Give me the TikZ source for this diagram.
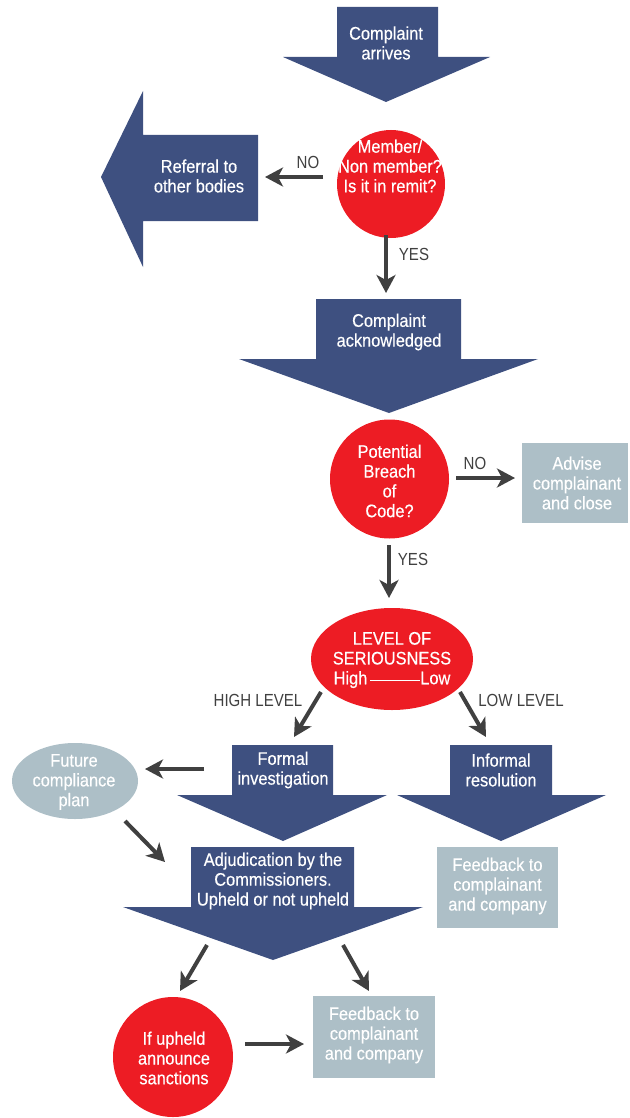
\documentclass[tikz,border=0pt]{standalone}
\usepackage{fontspec}
\setmainfont{Liberation Sans}
\newfontfamily\boxfont[FakeStretch=0.9,FakeBold=0.35]{Liberation Sans}
\newfontfamily\lblfont[FakeStretch=0.86]{Liberation Sans}
\usetikzlibrary{shapes.geometric,arrows.meta}
\definecolor{navy}{RGB}{62,80,128}
\definecolor{redfill}{RGB}{237,28,36}
\definecolor{grayfill}{RGB}{173,191,199}
\definecolor{arrowgray}{RGB}{64,64,64}
\begin{document}
\begin{tikzpicture}[x=1pt,y=-1pt,
  txt/.style={text=white,font=\boxfont\fontsize{18.2}{19.8}\selectfont,align=center,inner sep=0pt},
  lbl/.style={text=arrowgray,font=\lblfont\fontsize{17.5}{18}\selectfont,inner sep=0pt},
  conn/.style={draw=arrowgray,line width=4pt,-{Stealth[length=18pt,width=19pt,inset=5pt]}},
  blockarrow/.style={fill=navy},
  redcircle/.style={circle,fill=redfill,inner sep=0pt},
  grayellipse/.style={ellipse,fill=grayfill,inner sep=0pt},
  graybox/.style={rectangle,fill=grayfill,inner sep=0pt}]
\useasboundingbox (0,0) rectangle (629,1118);

% block arrows
\fill[blockarrow] (337,7) -- (438,7) -- (438,57) -- (490,57) -- (386,102) -- (283,57) -- (337,57) -- cycle;
\fill[blockarrow] (258,135) -- (258,221) -- (143,221) -- (143,267) -- (101,177) -- (143,91) -- (143,135) -- cycle;
\fill[blockarrow] (316,299) -- (461,299) -- (461,359) -- (538,359) -- (389,413) -- (239,359) -- (316,359) -- cycle;
\fill[blockarrow] (232,745) -- (333,745) -- (333,795) -- (387,795) -- (283,841) -- (177,795) -- (232,795) -- cycle;
\fill[blockarrow] (450,745) -- (552,745) -- (552,795) -- (606,795) -- (501,841) -- (397,795) -- (450,795) -- cycle;
\fill[blockarrow] (191,847) -- (354,847) -- (354,907) -- (423,907) -- (273,960) -- (123,907) -- (191,907) -- cycle;

% shapes
\node[redcircle,minimum size=108pt] (c1) at (391,184) {};
\node[redcircle,minimum size=119pt] (c2) at (389.5,479) {};
\node[ellipse,fill=redfill,inner sep=0pt,minimum width=162pt,minimum height=102pt] (lev) at (392,659) {};
\node[grayellipse,minimum width=126pt,minimum height=76pt] (fut) at (75,781) {};
\node[redcircle,minimum size=120pt] (c3) at (173,1057) {};
\node[graybox,minimum width=106pt,minimum height=80pt] (adv) at (575,483) {};
\node[graybox,minimum width=121pt,minimum height=81pt] (fb1) at (497.5,887.5) {};
\node[graybox,minimum width=122pt,minimum height=82pt] (fb2) at (374,1037) {};

% texts
\node[txt] (t1) at (386,43) {Complaint\\arrives};
\node[txt] (tref) at (199,176) {Referral to\\other bodies};
\node[txt] (tc1) at (390,166) {Member/\\Non member?\\Is it in remit?};
\node[txt] (tack) at (389,332) {Complaint\\acknowledged};
\node[txt] (tc2) at (389.5,481) {Potential\\Breach\\of\\Code?};
\node[txt] (tadv) at (577,483) {Advise\\complainant\\and close};
\node[txt] (tlev) at (392,660) {LEVEL OF\\SERIOUSNESS\\High\hspace{3pt}\rule[0.3ex]{50pt}{0.9pt}Low};
\node[txt] (tform) at (283,770) {Formal\\investigation};
\node[txt] (tinf) at (501,770) {Informal\\resolution};
\node[txt] (tfut) at (74,782) {Future\\compliance\\plan};
\node[txt] (tfb1) at (497.5,886) {Feedback to\\complainant\\and company};
\node[txt] (tadj) at (273,881) {Adjudication by the\\Commissioners.\\Upheld or not upheld};
\node[txt] (tc3) at (174,1058) {If upheld\\announce\\sanctions};
\node[txt] (tfb2) at (374,1035) {Feedback to\\complainant\\and company};

% labels
\node[lbl] (no1) at (308,162) {NO};
\node[lbl] (yes1) at (414,254) {YES};
\node[lbl] (no2) at (475,463) {NO};
\node[lbl] (yes2) at (413,559) {YES};
\node[lbl] (high) at (258,700) {HIGH LEVEL};
\node[lbl] (low) at (521,700) {LOW LEVEL};

% connector end points
\coordinate (n1a) at (323,177); \coordinate (n1b) at (265,177);
\coordinate (y1a) at (386,235); \coordinate (y1b) at (386,293);
\coordinate (n2a) at (456,478); \coordinate (n2b) at (515,478);
\coordinate (y2a) at (389,545); \coordinate (y2b) at (389,598);
\coordinate (ha) at (321,692); \coordinate (hb) at (294,737);
\coordinate (la) at (460,692); \coordinate (lb) at (486,737);
\coordinate (ffa) at (204,769); \coordinate (ffb) at (145,769);
\coordinate (faa) at (125,821); \coordinate (fab) at (165,862);
\coordinate (ara) at (207,945); \coordinate (arb) at (180,991);
\coordinate (afa) at (343,945); \coordinate (afb) at (369,991);
\coordinate (rfa) at (245,1044); \coordinate (rfb) at (304,1044);

% connectors
\draw[conn] (n1a) -- (n1b);
\draw[conn] (y1a) -- (y1b);
\draw[conn] (n2a) -- (n2b);
\draw[conn] (y2a) -- (y2b);
\draw[conn] (ha) -- (hb);
\draw[conn] (la) -- (lb);
\draw[conn] (ffa) -- (ffb);
\draw[conn] (faa) -- (fab);
\draw[conn] (ara) -- (arb);
\draw[conn] (afa) -- (afb);
\draw[conn] (rfa) -- (rfb);
\end{tikzpicture}
\end{document}
